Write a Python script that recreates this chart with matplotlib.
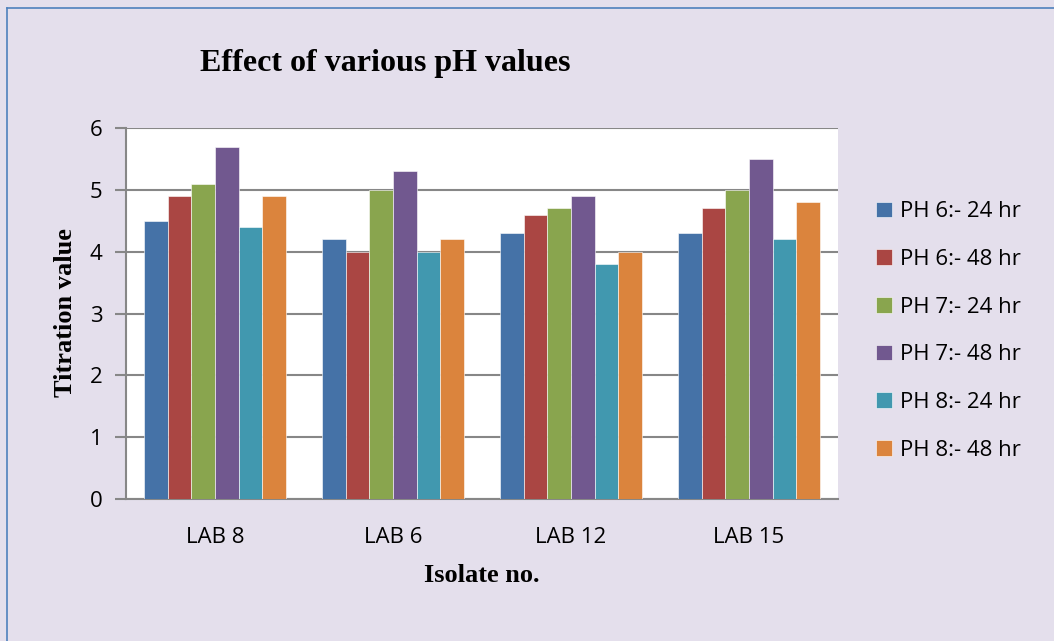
import numpy as np
import matplotlib.pyplot as plt
from matplotlib.lines import Line2D

isolates = ["LAB 8", "LAB 6", "LAB 12", "LAB 15"]
series = ["PH 6:- 24 hr", "PH 6:- 48 hr", "PH 7:- 24 hr",
          "PH 7:- 48 hr", "PH 8:- 24 hr", "PH 8:- 48 hr"]
ph6_24 = [4.5, 4.2, 4.3, 4.3]
ph6_48 = [4.9, 4.0, 4.6, 4.7]
ph7_24 = [5.1, 5.0, 4.7, 5.0]
ph7_48 = [5.7, 5.3, 4.9, 5.5]
ph8_24 = [4.4, 4.0, 3.8, 4.2]
ph8_48 = [4.9, 4.2, 4.0, 4.8]
colors = ["#4572A7", "#AA4643", "#89A54E", "#71588F", "#4198AF", "#DB843D"]

bg = "#E4DFEC"
fig = plt.figure(figsize=(10.54, 6.41), dpi=100, facecolor=bg)
ax = fig.add_axes([126 / 1054, 1 - 499 / 641, (838 - 126) / 1054, (499 - 128) / 641])
ax.set_facecolor("white")

# outer chart border (only top/left visible in the crop)
fig.add_artist(Line2D([7 / 1054, 7 / 1054], [0, 1 - 8 / 641], transform=fig.transFigure,
                      color="#4F81BD", lw=1.2))
fig.add_artist(Line2D([7 / 1054, 1], [1 - 8 / 641, 1 - 8 / 641], transform=fig.transFigure,
                      color="#4F81BD", lw=1.2))

data = [ph6_24, ph6_48, ph7_24, ph7_48, ph8_24, ph8_48]
x = np.arange(len(isolates))
w = 0.795 / 6
for i, vals in enumerate(data):
    ax.bar(x - 0.795 / 2 + w * (i + 0.5), vals, w, color=colors[i], label=series[i],
           edgecolor="white", linewidth=0.4, zorder=3)

ax.set_xlim(-0.5, 3.5)
ax.set_ylim(0, 6)
ax.set_yticks(range(7))
ax.grid(axis="y", color="#878787", lw=1.5, zorder=0)
for s in ["right", "top"]:
    ax.spines[s].set_visible(False)
ax.spines["left"].set_color("#878787")
ax.spines["bottom"].set_color("#878787")
ax.spines["left"].set_linewidth(1.5)
ax.spines["bottom"].set_linewidth(1.5)
ax.set_xticks(x)
ax.set_xticklabels(isolates)
ax.tick_params(axis="x", length=0, pad=20, labelsize=16)
ax.tick_params(axis="y", length=8, width=1.5, color="#878787", pad=9, labelsize=16)
for lbl in ax.get_xticklabels() + ax.get_yticklabels():
    lbl.set_fontfamily("Open Sans")

serif = "Liberation Serif"
fig.text(385 / 1054, 1 - 63 / 641, "Effect of various pH values", ha="center", va="center",
         fontsize=23, fontweight="bold", fontfamily=serif)
fig.text(482 / 1054, 1 - 575 / 641, "Isolate no.", ha="center", va="center",
         fontsize=19, fontweight="bold", fontfamily=serif)
fig.text(66 / 1054, 1 - 313 / 641, "Titration value", ha="center", va="center",
         rotation=90, fontsize=19, fontweight="bold", fontfamily=serif)

leg = fig.legend(loc="center left", bbox_to_anchor=(856 / 1054, 1 - 331 / 641),
                 frameon=False, prop={"family": "Open Sans", "size": 16},
                 handlelength=0.7, handleheight=0.7, handletextpad=0.4, labelspacing=1.2)

fig.savefig("out.png", dpi=100, facecolor=bg)
